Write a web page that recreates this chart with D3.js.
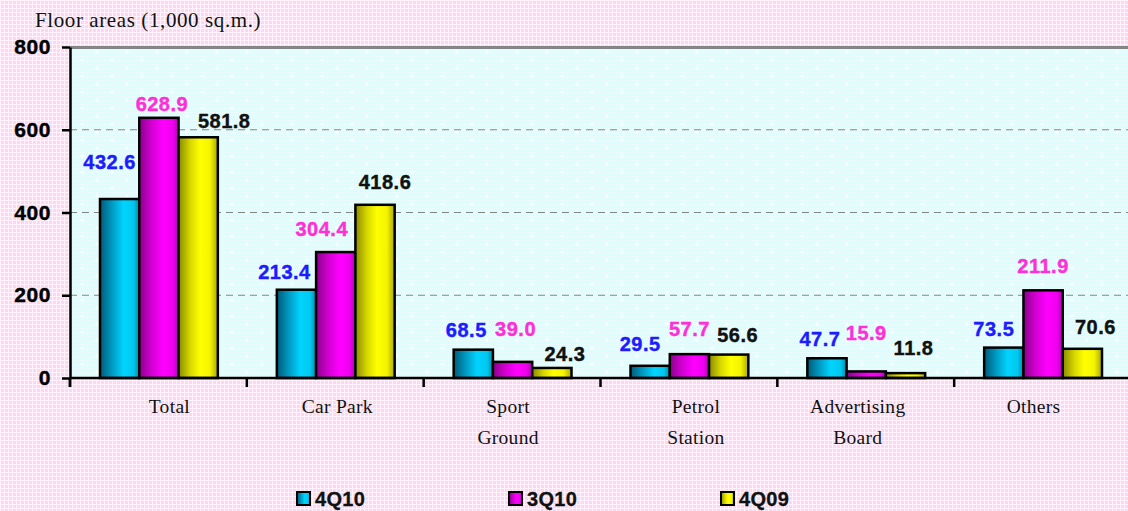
<!DOCTYPE html>
<html><head><meta charset="utf-8">
<script src="https://cdn.jsdelivr.net/npm/d3@7"></script>
<style>html,body{margin:0;padding:0;background:#fce4f5;} svg{display:block}</style>
</head><body><svg id="c" width="1128" height="511"></svg>
<script>
// ---- data ----
const categories = ["Total", "Car Park", "Sport Ground", "Petrol Station", "Advertising Board", "Others"];
const categoryLines = [["Total"], ["Car Park"], ["Sport", "Ground"], ["Petrol", "Station"], ["Advertising", "Board"], ["Others"]];
const seriesNames = ["4Q10", "3Q10", "4Q09"];
const values4Q10 = [432.6, 213.4, 68.5, 29.5, 47.7, 73.5];
const values3Q10 = [628.9, 304.4, 39.0, 57.7, 15.9, 211.9];
const values4Q09 = [581.8, 418.6, 24.3, 56.6, 11.8, 70.6];
const yTicks = [0, 200, 400, 600, 800];
const yTitle = "Floor areas (1,000 sq.m.)";

// ---- layout / style ----
const W = 1128, H = 511;
const plot = {left: 70, top: 47, right: 1131, bottom: 378};
const seriesColors = ["cyan", "magenta", "yellow"];
const labelColors = ["#1c1cff", "#ff2fd8", "#111111"];
// label nudges relative to bar top-centre (dx, dy of text centre)
const labelNudge = [
  [[-10,-37],[3,-14],[26,-16]],
  [[-12,-18],[-14,-23],[10,-23]],
  [[-7,-20],[3,-33],[13,-14]],
  [[-10,-22],[0,-25],[9,-20]],
  [[-7,-19],[0,-38],[8,-25]],
  [[-10,-19],[0,-24],[13,-22]]
];
// category label horizontal nudges relative to band centre
const catLabelNudge = [11, 2, -4, 7, -8, -9];

const seriesValues = [values4Q10, values3Q10, values4Q09];
const svg = d3.select("#c");
const defs = svg.append("defs");

// pink plaid background
const pp = defs.append("pattern").attr("id","pink").attr("width",4).attr("height",4).attr("patternUnits","userSpaceOnUse");
pp.append("rect").attr("width",4).attr("height",4).attr("fill","#fbd8f1");
pp.append("rect").attr("width",4).attr("height",1).attr("fill","#fff2fb");
pp.append("rect").attr("width",1).attr("height",4).attr("fill","#fff2fb");
// cyan dotted plot background
const cp = defs.append("pattern").attr("id","cyan").attr("width",30).attr("height",16).attr("patternUnits","userSpaceOnUse");
cp.append("rect").attr("width",30).attr("height",16).attr("fill","#dcfdfd");
for (let i=0;i<30;i+=2) for (let j=0;j<16;j+=2) {
  cp.append("rect").attr("x",i+((j/2)%2)).attr("y",j).attr("width",1).attr("height",1).attr("fill","#f0ffff");
}
function star(g, cx, cy){
  g.append("path").attr("d",`M${cx},${cy-2.5}L${cx+0.8},${cy-0.8}L${cx+2.5},${cy}L${cx+0.8},${cy+0.8}L${cx},${cy+2.5}L${cx-0.8},${cy+0.8}L${cx-2.5},${cy}L${cx-0.8},${cy-0.8}Z`).attr("fill","#ffffff");
}
star(cp, 7, 4); star(cp, 22, 12);

// gradients
const gradStops = {
  cyan: [["0%","#005a78"],["30%","#0099c0"],["60%","#00d4ff"],["85%","#00c8f0"],["100%","#0088a8"]],
  magenta: [["0%","#8a008a"],["30%","#d000d0"],["60%","#ff00ff"],["85%","#f000f0"],["100%","#b000b0"]],
  yellow: [["0%","#8a8a00"],["30%","#d8d800"],["55%","#ffff00"],["80%","#f4f400"],["100%","#a8a800"]]
};
Object.entries(gradStops).forEach(([k, stops]) => {
  const g = defs.append("linearGradient").attr("id","g-"+k).attr("x1","0%").attr("x2","100%").attr("y1","0%").attr("y2","0%");
  stops.forEach(s => g.append("stop").attr("offset",s[0]).attr("stop-color",s[1]));
});

svg.append("rect").attr("width",W).attr("height",H).attr("fill","url(#pink)");

// scales
const y = d3.scaleLinear().domain([0, 800]).range([plot.bottom, plot.top]);
const x0 = d3.scaleBand().domain(categories).range([plot.left, plot.right]).padding(0);
const x1 = d3.scaleBand().domain(seriesNames).range([30, x0.bandwidth() - 29]).padding(0);

// plot area
svg.append("rect").attr("x",plot.left).attr("y",plot.top).attr("width",W-plot.left).attr("height",plot.bottom-plot.top).attr("fill","url(#cyan)");

// gridlines
svg.append("g").selectAll("line").data(yTicks.filter(t => t>0 && t<800)).join("line")
  .attr("x1",plot.left).attr("x2",W).attr("y1",d=>y(d)).attr("y2",d=>y(d))
  .attr("stroke","#858585").attr("stroke-width",1).attr("stroke-dasharray","7,5");
svg.append("line").attr("x1",plot.left).attr("x2",W).attr("y1",y(800)+0.5).attr("y2",y(800)+0.5)
  .attr("stroke","#858585").attr("stroke-width",3);

// bars
const rows = [];
categories.forEach((c, ci) => seriesNames.forEach((s, si) => rows.push({c, ci, s, si, v: seriesValues[si][ci]})));
svg.append("g").selectAll("rect").data(rows).join("rect")
  .attr("x", d => x0(d.c) + x1(d.s))
  .attr("y", d => y(d.v))
  .attr("width", x1.bandwidth())
  .attr("height", d => y(0) - y(d.v))
  .attr("fill", d => "url(#g-" + seriesColors[d.si] + ")")
  .attr("stroke", "#000").attr("stroke-width", 2.5);

// value labels
svg.append("g").selectAll("text").data(rows).join("text")
  .attr("x", d => x0(d.c) + x1(d.s) + x1.bandwidth()/2 + labelNudge[d.ci][d.si][0])
  .attr("y", d => y(d.v) + labelNudge[d.ci][d.si][1] + 7)
  .attr("text-anchor","middle")
  .attr("font-family","Liberation Sans, Arial, sans-serif").attr("font-weight","bold")
  .attr("font-size",20).attr("letter-spacing","0.5px")
  .attr("fill", d => labelColors[d.si])
  .attr("stroke", d => labelColors[d.si]).attr("stroke-width",0.4)
  .text(d => d.v.toFixed(1));

// x baseline and category ticks
svg.append("line").attr("x1",plot.left).attr("x2",W).attr("y1",y(0)).attr("y2",y(0)).attr("stroke","#000").attr("stroke-width",2.5);
const bounds = categories.map(c => x0(c));
svg.append("g").selectAll("line").data(bounds).join("line")
  .attr("x1",d=>d).attr("x2",d=>d).attr("y1",y(0)).attr("y2",y(0)+9)
  .attr("stroke","#000").attr("stroke-width",2.5);

// y axis
const yAxis = svg.append("g").attr("transform",`translate(${plot.left},0)`)
  .call(d3.axisLeft(y).tickValues(yTicks).tickSize(8).tickSizeOuter(0).tickPadding(11).tickFormat(d3.format("d")));
yAxis.select(".domain").attr("stroke","#000").attr("stroke-width",2.5);
yAxis.selectAll(".tick line").attr("stroke","#000").attr("stroke-width",2.5);
yAxis.selectAll(".tick text").attr("font-family","Liberation Sans, Arial, sans-serif").attr("font-weight","bold")
  .attr("font-size",21).attr("fill","#000").attr("letter-spacing","0.6px").attr("stroke","#000").attr("stroke-width",0.4);
svg.append("line").attr("x1",plot.left).attr("x2",plot.left).attr("y1",y(0)).attr("y2",y(0)+9).attr("stroke","#000").attr("stroke-width",2.5);

// y title
svg.append("text").attr("x",35).attr("y",27).attr("font-family","Liberation Serif, Times New Roman, serif")
  .attr("font-size",21).attr("letter-spacing","0.6px").attr("fill","#111").text(yTitle);

// category labels
const cl = svg.append("g").selectAll("text").data(categories).join("text")
  .attr("y", 413)
  .attr("text-anchor","middle")
  .attr("font-family","Liberation Serif, Times New Roman, serif")
  .attr("font-size",19.5).attr("letter-spacing","0.3px").attr("fill","#111");
cl.each(function(c, i){
  const cx = x0(c) + x0.bandwidth()/2 + catLabelNudge[i];
  d3.select(this).selectAll("tspan").data(categoryLines[i]).join("tspan")
    .attr("x", cx).attr("dy",(d,j)=> j===0 ? 0 : 31).text(d=>d);
});

// legend
const lx = d3.scaleLinear().domain([0, 2]).range([297, 721]);
const lg = svg.append("g").selectAll("g").data(seriesNames).join("g")
  .attr("transform",(d,i)=>`translate(${lx(i)},492)`);
lg.append("rect").attr("width",13).attr("height",13)
  .attr("fill",(d,i)=>"url(#g-"+seriesColors[i]+")").attr("stroke","#000").attr("stroke-width",2);
lg.append("text").attr("x",18).attr("y",14).attr("font-family","Liberation Sans, Arial, sans-serif")
  .attr("font-weight","bold").attr("font-size",20).attr("letter-spacing","0.3px").attr("fill","#111")
  .attr("stroke","#111").attr("stroke-width",0.3).text(d=>d);
</script>
</body></html>
